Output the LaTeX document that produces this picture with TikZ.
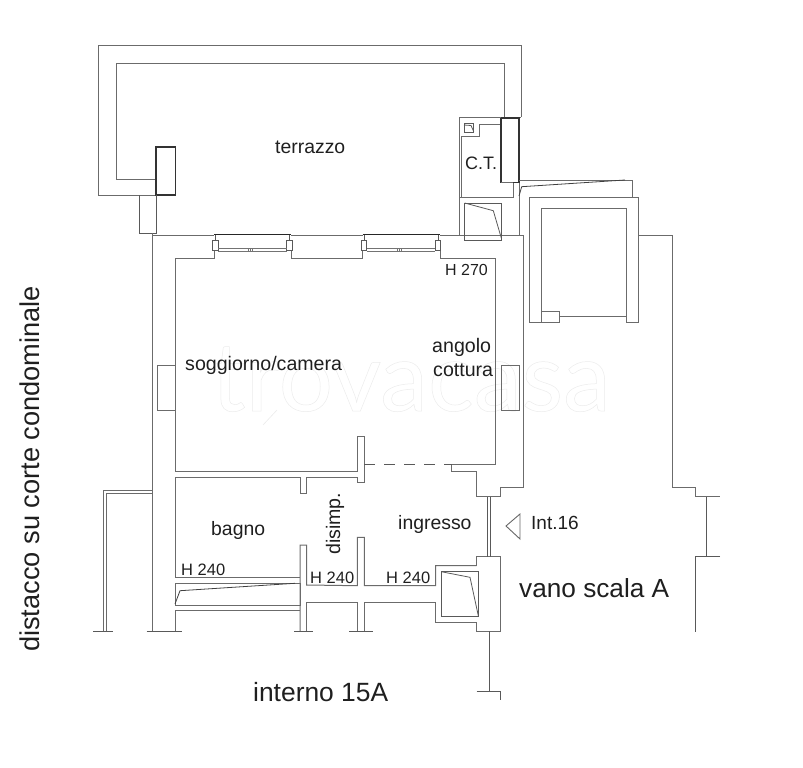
\documentclass[tikz,border=0pt]{standalone}
\usepackage{fontspec}
\setmainfont{Liberation Sans}
\newfontfamily\wmfont{Lato}
\tikzset{
  wall/.style={draw=black!58,line width=1pt,line join=miter},
  thin wall/.style={draw=black!65,line width=0.8pt},
  dark wall/.style={draw=black!80,line width=1.3pt},
  label/.style={inner sep=0pt,text=black!88,anchor=base west},
}
\newcommand{\fs}[1]{\fontsize{#1}{#1}\selectfont}
\begin{document}
\begin{tikzpicture}[x=1pt,y=-1pt]
\useasboundingbox (0,0) rectangle (803,768);
% watermark
\node[inner sep=0pt,anchor=base west] (wm) at (211,411) {\wmfont\fs{96}\special{pdf:code q 1 Tr 0.5 w 0.92 G}trovacasa\special{pdf:code Q}};
\draw[black!8,line width=0.6pt] (277,410) -- (263,425);

% terrace parapet
\draw[wall] (155,195) -- (98,195) -- (98,46) -- (521,46) -- (521,117);
\draw[wall] (155,179) -- (116,179) -- (116,63.5) -- (504,63.5) -- (504,117);
\draw[wall] (504,117) -- (521,117);
\draw[dark wall] (156,147) rectangle (175.7,195);
\draw[thin wall] (139,195) -- (139,233) -- (156,233) -- (156,195);

% main walls
\draw[wall] (152,233) -- (152,631);
\draw[wall] (152,235) -- (214,235);
\draw[wall] (291,235) -- (363,235);
\draw[wall] (440,235) -- (523.7,235) -- (523.7,487) -- (500,487) -- (500,496.7) -- (476.7,496.7) -- (476.7,471) -- (451.7,471) -- (451.7,464) -- (495.7,464) -- (495.7,258) -- (440,258) -- (440,250);
\draw[wall] (214,250) -- (214,258) -- (175.7,258) -- (175.7,471.3) -- (357.3,471.3) -- (357.3,436.7) -- (364.3,436.7) -- (364.3,482.7) -- (357.3,482.7) -- (357.3,477.7) -- (306.7,477.7) -- (306.7,493.3) -- (300,493.3) -- (300,477.7) -- (175.7,477.7) -- (175.7,577.7) -- (300,577.7);
\draw[wall] (291,250) -- (291,258) -- (362,258) -- (362,250);
\draw[black!65,line width=1pt,dash pattern=on 11pt off 9pt] (364.3,464) -- (451.7,464);

% windows on top wall
\foreach \a/\b in {212.3/286.7,361/435}{
  \draw[black!85,line width=1pt] (\a+1.5,234.5) -- (\b+4.5,234.5);
  \draw[thin wall] (\a+3,234.5) -- (\a+3,240) (\b+3,234.5) -- (\b+3,240);
  \draw[thin wall] (\a,240) rectangle (\a+5.8,250.7);
  \draw[thin wall] (\b,240) rectangle (\b+5.8,250.7);
  \draw[black!55,line width=0.7pt] (\a+5.8,248.7) -- (\b,248.7) (\a+5.8,251.2) -- (\b,251.2);
  \draw[black!55,line width=0.7pt] (\a+36,248.7) -- (\a+36,251.2) (\a+38,248.7) -- (\a+38,251.2) (\a+40,248.7) -- (\a+40,251.2);
}

% side windows
\draw[wall] (157,365.7) rectangle (175.7,410.7);
\draw[wall] (501,365.7) rectangle (519,410.7);

% C.T. boiler room
\draw[wall] (459,235) -- (459,117.3) -- (503.7,117.3);
\draw[wall] (501,124) -- (479,124) -- (479,136.7) -- (461,136.7) -- (461,197);
\draw[wall] (459,197) -- (513,197) -- (513,183);
\draw[dark wall] (501,118) -- (501,182.7) -- (519,182.7);
\draw[dark wall] (501,118) -- (519,118) -- (519,182.7);
\draw[wall] (501,182.7) -- (513,182.7);
\draw[wall] (519,182.7) -- (519,235);
\draw[thin wall] (464,123) rectangle (473.7,132);
\draw[thin wall] (464,125) -- (471,125.5) -- (473.7,131.5);

% shaft in terrace
\draw[thin wall] (464.7,203) rectangle (501.3,240);
\draw[thin wall] (464.7,203) -- (493.3,210.7) -- (501.3,238);

% stair outside top right
\draw[wall] (519,180) -- (632,180) -- (632,197);
\draw[black!75,line width=0.8pt] (519,196) -- (521.7,186.7) -- (625,180);
\draw[wall] (529.7,322.3) -- (529.7,197) -- (638,197) -- (638,322.7) -- (626.5,322.7) -- (626.5,208) -- (541,208) -- (541,322.3) -- cycle;
\draw[wall] (626.5,316.7) -- (559.7,316.7) -- (559.7,311.3) -- (541,311.3);
\draw[wall] (559.7,316.7) -- (559.7,322.3) -- (541,322.3);

% right neighbouring outline
\draw[wall] (638,235) -- (672.7,235) -- (672.7,487.3) -- (695.7,487.3) -- (695.7,496.7) -- (720,496.7);
\draw[thin wall] (706,496.7) -- (706,556.7);
\draw[thin wall] (720,556.7) -- (695.7,556.7) -- (695.7,631.7);

% bathroom area
\draw[wall] (300,631) -- (300,545) -- (306.7,545) -- (306.7,585) -- (357.3,585.7) -- (357.3,537.3) -- (364.3,537.3) -- (364.3,585.7) -- (435.7,585.7) -- (435.7,565.7) -- (476.7,565.7);
\draw[wall] (175,583.3) rectangle (300.7,605);
\draw[black!75,line width=0.8pt] (175,604) -- (180,590.7) -- (295,583.3);
\draw[wall] (175.7,631) -- (175.7,610.3) -- (300,610.3);
\draw[wall] (306.7,631) -- (306.7,602.7) -- (357.3,602.7) -- (357.3,631);
\draw[wall] (364.3,631) -- (364.3,602.7) -- (435.7,602.7) -- (435.7,622.3) -- (476.7,622.3);

% entrance block and shaft
\draw[wall] (476.7,565.7) -- (476.7,556.7) -- (500.3,556.7) -- (500.3,631.3) -- (476.7,631.3) -- (476.7,622.3);
\draw[thin wall] (441.3,571.7) rectangle (478.3,616.7);
\draw[thin wall] (441.3,571.7) -- (470,577.3) -- (478.3,615.7);
\draw[black!65,line width=0.8pt] (487.7,496.7) -- (487.7,556.7) (489.9,496.7) -- (489.9,556.7);
\draw[thin wall] (489.3,631.3) -- (489.3,691.7);
\draw[thin wall] (476.7,691.7) -- (500,691.7) -- (500,700);

% outside left and section marks
\draw[wall] (152,490.3) -- (103.3,490.3) -- (103.3,631);
\draw[wall] (152,493.3) -- (106.7,493.3) -- (106.7,631);
\draw[thin wall] (93,631) -- (112.7,631) (146.7,631) -- (181.7,631) (294,631) -- (313.3,631) (349.3,631) -- (373.3,631);

% entrance marker
\draw[black!60,line width=0.9pt] (520,514) -- (506,526) -- (520,539) -- cycle;

% labels
\node[label] (terr) at (275,153) {\fs{19.4}terrazzo};
\node[label] (ct) at (465,169) {\fs{18}C.T.};
\node[label] (h270) at (445,275) {\fs{16}H 270};
\node[label] (sogg) at (185,370) {\fs{19.6}soggiorno/camera};
\node[label] (ang) at (432,352) {\fs{19.6}angolo};
\node[label] (cot) at (433,376) {\fs{19.6}cottura};
\node[label] (bagno) at (211,535) {\fs{19.4}bagno};
\node[label] (ingr) at (398,529) {\fs{19.4}ingresso};
\node[label] (int) at (531,529) {\fs{19}Int.16};
\node[label] (h1) at (181,575) {\fs{16.5}H 240};
\node[label] (h2) at (310,583) {\fs{16.5}H 240};
\node[label] (h3) at (386,583) {\fs{16.5}H 240};
\node[label] (vano) at (519,597) {\fs{26.2}vano scala A};
\node[label] (interno) at (253,701) {\fs{26.4}interno 15A};
\node[label,rotate=90] (dis) at (340,555) {\fs{19.6}disimp.};
\node[label,rotate=90] (dist) at (39,652) {\fs{27.2}distacco su corte condominale};
\end{tikzpicture}
\end{document}
